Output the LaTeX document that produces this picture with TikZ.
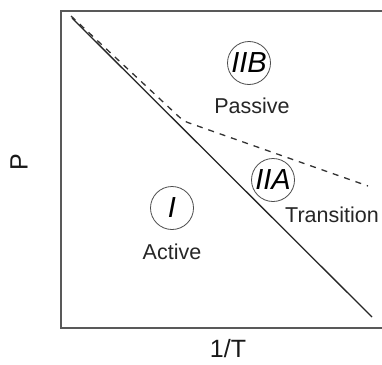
\documentclass[tikz,border=0pt]{standalone}
\usepackage{fontspec}
\setmainfont{Liberation Sans}
\begin{document}
\begin{tikzpicture}[x=1pt,y=-1pt,
  frame/.style={draw=black!65,line width=1.4pt},
  boundary/.style={draw=black!85,line width=1.3pt},
  dashline/.style={draw=black!80,line width=1.3pt,dash pattern=on 6pt off 6pt},
  regioncircle/.style={circle,draw=black!70,line width=0.8pt,minimum size=43pt,inner sep=0pt,font=\fontsize{29}{29}\selectfont\itshape},
  lbl/.style={font=\fontsize{21.5}{22}\selectfont,text=black!85,inner sep=0pt},
  axislbl/.style={font=\fontsize{25}{25}\selectfont,text=black!90,inner sep=0pt}]
\useasboundingbox (0,0) rectangle (382,364);
\fill[white] (0,0) rectangle (382,364);
% frame
\coordinate (ftr) at (382,11);
\coordinate (ftl) at (61,11);
\coordinate (fbl) at (61,328);
\coordinate (fbr) at (382,328);
\draw[frame] (ftr) -- (ftl) -- (fbl) -- (fbr);
% boundaries
\coordinate (s0) at (72,18);
\coordinate (s1) at (372,317);
\draw[boundary] (s0) -- (s1);
\coordinate (d0) at (71,16);
\coordinate (d1) at (176,114);
\coordinate (d2) at (192,124);
\coordinate (d3) at (368,186);
\draw[dashline] (d0) -- (d1) .. controls (181,119) and (185,122) .. (d2) -- (d3);
% regions
\node[regioncircle] (IIB) at (249,63) {IIB};
\node[lbl] (passive) at (252,106) {Passive};
\node[regioncircle] (IIA) at (273,180) {IIA};
\node[lbl] (trans) at (332,215) {Transition};
\node[regioncircle] (I) at (172,208) {I};
\node[lbl] (active) at (172,252) {Active};
% axes labels
\node[axislbl,rotate=90] (P) at (19,162) {P};
\node[axislbl] (invT) at (228,349) {1/T};
\end{tikzpicture}
\end{document}
